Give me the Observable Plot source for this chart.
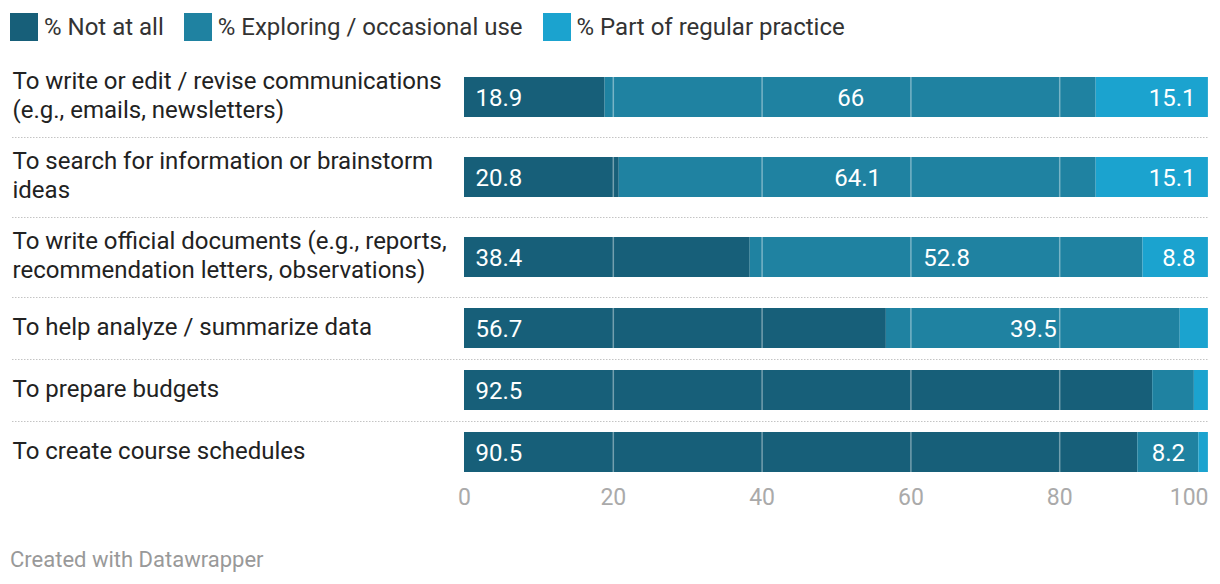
<!DOCTYPE html>
<html>
<head>
<meta charset="utf-8">
<script src="https://cdn.jsdelivr.net/npm/d3@7"></script>
<script src="https://cdn.jsdelivr.net/npm/@observablehq/plot@0.6"></script>
<style>
  body { margin: 0; background: #fff; font-family: Roboto, "Noto Sans", sans-serif; }
  #legend { display: flex; align-items: center; height: 47px; padding-top: 3px; padding-left: 10px; font-size: 24px; color: #333; }
  .item { display: flex; align-items: center; margin-right: 20px; }
  .sw { width: 28px; height: 28px; margin-right: 6px; }
  #caption { margin-top: 29px; padding-left: 10px; font-size: 22px; line-height: 24px; color: #999; }
  svg { display: block; }
</style>
</head>
<body>
<div id="legend"></div>
<div id="chart"></div>
<div id="caption">Created with Datawrapper</div>
<script>
const categories = [
  "To write or edit / revise communications\n(e.g., emails, newsletters)",
  "To search for information or brainstorm\nideas",
  "To write official documents (e.g., reports,\nrecommendation letters, observations)",
  "To help analyze / summarize data",
  "To prepare budgets",
  "To create course schedules"
];
const notAtAll  = [18.9, 20.8, 38.4, 56.7, 92.5, 90.5];
const exploring = [66, 64.1, 52.8, 39.5, 5.6, 8.2];
const regular   = [15.1, 15.1, 8.8, 3.8, 1.9, 1.3];
const seriesNames = ["% Not at all", "% Exploring / occasional use", "% Part of regular practice"];
const seriesColors = ["#175f79", "#1f82a1", "#1ba3cf"];
const xTicks = [0, 20, 40, 60, 80, 100];
const gridTicks = [20, 40, 60, 80, 100];

// layout helpers
const barH = 40;
const rows = [];
let acc = 0;
categories.forEach((c, i) => {
  const lines = c.split("\n").length;
  const h = lines > 1 ? 80 : 62;
  rows.push({cat: c, i, top: acc, h, mid: acc + h / 2, b1: acc + (h - barH) / 2, b2: acc + (h + barH) / 2});
  acc += h;
});
const total = acc;
const seps = rows.slice(1).map(r => r.top);

const seriesVals = [notAtAll, exploring, regular];
const segs = [];
rows.forEach(r => {
  let x = 0;
  seriesVals.forEach((vals, s) => {
    const v = vals[r.i];
    segs.push({row: r.i, series: seriesNames[s], s, v, x1: x, x2: x + v, y1: r.b1, y2: r.b2, mid: r.mid});
    x += v;
  });
});
const grid = [];
rows.forEach(r => gridTicks.forEach(t => grid.push({t, y1: r.b1, y2: r.b2})));
const labeled = segs.filter(d => d.v >= 8);

// legend
const leg = document.getElementById("legend");
seriesNames.forEach((n, i) => {
  const it = document.createElement("div");
  it.className = "item";
  it.innerHTML = `<div class="sw" style="background:${seriesColors[i]}"></div><span>${n}</span>`;
  leg.appendChild(it);
});

const mt = 7, mb = 36;
const fs = 24;
const chart = Plot.plot({
  width: 1220,
  height: mt + total + mb,
  marginTop: mt,
  marginBottom: mb,
  marginLeft: 12,
  marginRight: 12,
  style: {fontFamily: "Roboto, sans-serif", background: "#fff"},
  x: {domain: [0, 100], range: [464, 1208], axis: null},
  y: {domain: [0, total], range: [mt, mt + total], axis: null},
  color: {domain: seriesNames, range: seriesColors},
  marks: [
    Plot.ruleY(seps, {y: d => d, stroke: "#c4c4c4", strokeDasharray: "1.5,1.5", strokeWidth: 1}),
    Plot.rectX(segs, {x1: "x1", x2: "x2", y1: "y1", y2: "y2", fill: "series"}),
    Plot.ruleX(grid, {x: "t", y1: "y1", y2: "y2", stroke: "#fff", strokeOpacity: 0.4, strokeWidth: 1.5}),
    Plot.text(labeled.filter(d => d.s === 0), {x: "x1", y: "mid", dy: 1, text: d => String(d.v), textAnchor: "start", dx: 11, fill: "#fff", fontSize: fs}),
    Plot.text(labeled.filter(d => d.s === 1), {x: d => (d.x1 + d.x2) / 2, y: "mid", dy: 1, text: d => String(d.v), textAnchor: "middle", fill: "#fff", fontSize: fs}),
    Plot.text(labeled.filter(d => d.s === 2), {x: "x2", y: "mid", dy: 1, text: d => String(d.v), textAnchor: "end", dx: -13, fill: "#fff", fontSize: fs}),
    Plot.text(rows, {frameAnchor: "left", y: "mid", dy: -3, text: "cat", textAnchor: "start", lineAnchor: "middle", lineHeight: 1.21, fill: "#222", fontSize: fs}),
    Plot.text(xTicks.filter(t => t < 100), {x: d => d, frameAnchor: "bottom", dy: 21, text: d => String(d), textAnchor: "middle", fill: "#aaa", fontSize: 23}),
    Plot.text(xTicks.filter(t => t === 100), {x: d => d, frameAnchor: "bottom", dy: 21, text: d => String(d), textAnchor: "end", fill: "#aaa", fontSize: 23})
  ]
});
document.getElementById("chart").appendChild(chart);
</script>
</body>
</html>
